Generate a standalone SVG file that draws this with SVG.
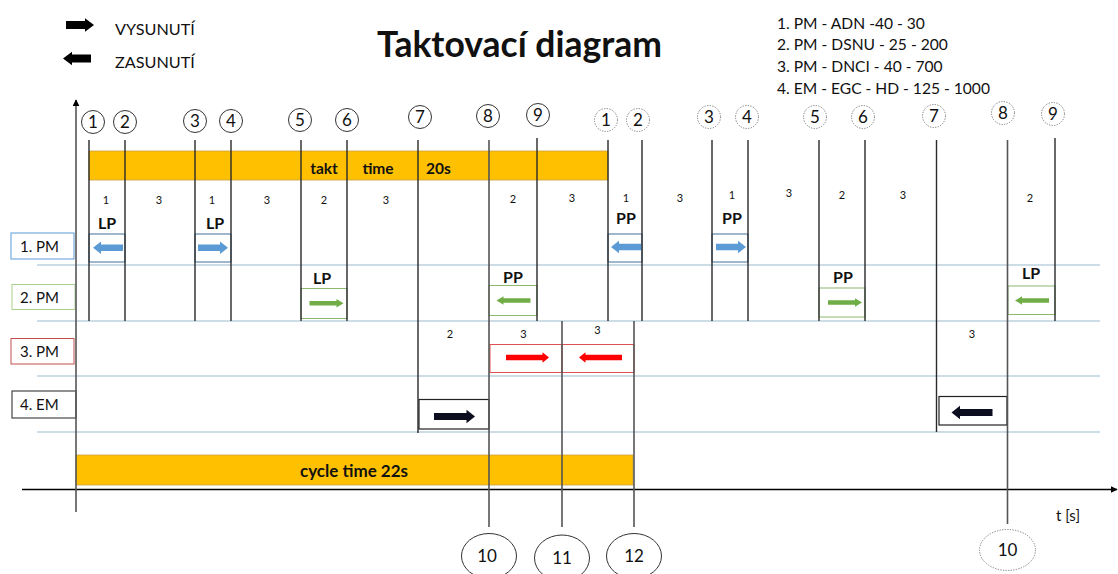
<svg xmlns="http://www.w3.org/2000/svg" width="1118" height="574" viewBox="0 0 1118 574">
<style>
text{font-family:Lato,"Liberation Sans",sans-serif;fill:#111}
.num{font-size:11px;text-anchor:middle}
.lbl{font-size:16px;font-weight:bold;text-anchor:middle}
.cd{font-size:17px;text-anchor:middle}
.vl{stroke:#2a2a2a;stroke-width:1.4;fill:none}
.vg{stroke:#555;stroke-width:1.6;fill:none}
.lane{stroke:#9bbcd0;stroke-width:1.2}
.cs{fill:none;stroke:#333;stroke-width:1}
.cdot{fill:none;stroke:#777;stroke-width:1;stroke-dasharray:1.2 1.4}
.bb{fill:#fff;stroke:#41719c;stroke-width:1}
.gb{fill:#fff;stroke:#8cb870;stroke-width:1}
.rb{fill:#fff;stroke:#e05050;stroke-width:1}
.kb{fill:#fff;stroke:#222;stroke-width:1.2}
.bar{fill:#ffc000;stroke:#c8a040;stroke-width:0.8}
.rowlbl{font-size:15px}
</style>
<defs>
<path id="ab" d="M-15,-3.3 H7 V-6.3 L15,0 L7,6.3 V3.3 H-15 Z" fill="#5b9bd5"/>
<path id="ag" d="M-17,-2.3 H10 V-4.3 L17,0 L10,4.3 V2.3 H-17 Z" fill="#70ad47"/>
<path id="ar" d="M-21.5,-2.8 H15 V-5.3 L21.5,0 L15,5.3 V2.8 H-21.5 Z" fill="#ff0000"/>
<path id="ak" d="M-20.5,-3.4 H12 V-6.7 L20.5,0 L12,6.7 V3.4 H-20.5 Z" fill="#0d0d20"/>
<path id="al" d="M-14,-4 H5 V-6.8 L14,0 L5,6.8 V4 H-14 Z" fill="#000"/>
<marker id="ah" viewBox="0 0 10 10" refX="9" refY="5" markerWidth="7" markerHeight="7" orient="auto" markerUnits="userSpaceOnUse"><path d="M0,0 L10,5 L0,10 Z" fill="#000"/></marker>
</defs>

<g id="legend">
<use href="#al" transform="translate(80,25)"/>
<text x="115" y="35" style="font-size:16.2px">VYSUNUTÍ</text>
<use href="#al" transform="translate(77,58.5) scale(-1,1)"/>
<text x="115" y="68" style="font-size:16.2px">ZASUNUTÍ</text>
</g>

<g id="title"><text x="377" y="56.5" style="font-size:35.5px;font-weight:bold">Taktovací diagram</text></g>

<g id="spec" style="font-size:15.6px">
<text x="777" y="28.5">1. PM - ADN -40 - 30</text>
<text x="777" y="50.3">2. PM - DSNU - 25 - 200</text>
<text x="777" y="72.1">3. PM - DNCI - 40 - 700</text>
<text x="777" y="93.9">4. EM - EGC - HD - 125 - 1000</text>
</g>

<g id="bars">
<rect class="bar" x="89" y="151" width="519" height="29"/>
<text x="324" y="173.5" style="font-size:15.5px;font-weight:bold;text-anchor:middle">takt</text>
<text x="378" y="173.5" style="font-size:15.5px;font-weight:bold;text-anchor:middle">time</text>
<text x="426" y="173.5" style="font-size:15.5px;font-weight:bold">20s</text>
<rect class="bar" x="76" y="455" width="557" height="30"/>
<text x="354" y="477" style="font-size:17px;font-weight:bold;text-anchor:middle">cycle time 22s</text>
</g>

<g id="lanes">
<line class="lane" x1="37" y1="265" x2="1100" y2="265"/>
<line class="lane" x1="37" y1="321" x2="1100" y2="321"/>
<line class="lane" x1="37" y1="376" x2="1100" y2="376"/>
<line class="lane" x1="37" y1="432" x2="1100" y2="432"/>
</g>

<g id="row-labels">
<g id="lbl-pm1"><rect x="11" y="233" width="63" height="26" fill="#fff" stroke="#5b9bd5" stroke-width="1"/><text class="rowlbl" x="20" y="251.5">1. PM</text></g>
<g id="lbl-pm2"><rect x="12" y="284.5" width="63" height="25" fill="#fff" stroke="#a9d18e" stroke-width="1"/><text class="rowlbl" x="20" y="302.5">2. PM</text></g>
<g id="lbl-pm3"><rect x="11" y="338.5" width="63" height="25.5" fill="#fff" stroke="#c0504d" stroke-width="1"/><text class="rowlbl" x="20" y="356.5">3. PM</text></g>
<g id="lbl-em4"><rect x="12" y="391" width="64" height="27" fill="#fff" stroke="#222" stroke-width="1"/><text class="rowlbl" x="20" y="410">4. EM</text></g>
</g>

<g id="boxes">
<g id="pm1-a"><rect class="bb" x="89" y="234" width="36" height="28"/><use href="#ab" transform="translate(108,247.7) scale(-1,1)"/><text class="lbl" x="107" y="229">LP</text></g>
<g id="pm1-b"><rect class="bb" x="195" y="234" width="36" height="28"/><use href="#ab" transform="translate(213,247.7)"/><text class="lbl" x="215" y="229">LP</text></g>
<g id="pm1-c"><rect class="bb" x="608" y="234" width="34" height="28"/><use href="#ab" transform="translate(626,247)  scale(-1,1)"/><text class="lbl" x="626" y="224">PP</text></g>
<g id="pm1-d"><rect class="bb" x="712" y="234" width="36" height="28"/><use href="#ab" transform="translate(731,247)"/><text class="lbl" x="732" y="224">PP</text></g>
<g id="pm2-a"><rect class="gb" x="301" y="288.5" width="46" height="30"/><use href="#ag" transform="translate(326.5,303.3)"/><text class="lbl" x="322" y="284">LP</text></g>
<g id="pm2-b"><rect class="gb" x="489" y="285.5" width="48" height="30"/><use href="#ag" transform="translate(513.5,300.5) scale(-1,1)"/><text class="lbl" x="513" y="283">PP</text></g>
<g id="pm2-c"><rect class="gb" x="819" y="288" width="46" height="29"/><use href="#ag" transform="translate(845,302.5)"/><text class="lbl" x="843" y="282.5">PP</text></g>
<g id="pm2-d"><rect class="gb" x="1008" y="286" width="47" height="28.5"/><use href="#ag" transform="translate(1032,300.5) scale(-1,1)"/><text class="lbl" x="1031" y="279">LP</text></g>
<g id="pm3-a"><rect class="rb" x="490" y="344.5" width="72" height="28"/><use href="#ar" transform="translate(527.5,357.5)"/></g>
<g id="pm3-b"><rect class="rb" x="562" y="344.5" width="72" height="28"/><use href="#ar" transform="translate(600.5,357.5) scale(-1,1)"/></g>
<g id="em4-a"><rect class="kb" x="419" y="399.5" width="70" height="29.5"/><use href="#ak" transform="translate(454.5,416.5)"/></g>
<g id="em4-b"><rect class="kb" x="939" y="396.5" width="68" height="28.5"/><use href="#ak" transform="translate(972,412.5) scale(-1,1)"/></g>
</g>

<g id="connectors">
<line x1="22" y1="489.5" x2="1117" y2="489.5" stroke="#000" stroke-width="1.3" marker-end="url(#ah)"/>
<line x1="76" y1="512" x2="76" y2="100" stroke="#555" stroke-width="1.6" marker-end="url(#ah)"/>
<path class="vl" d="M89,140V321 M125,140V321 M195,140V321 M231,140V321 M301,140V321 M347,140V321 M537,138V321 M608,140V321 M642,140V321 M712,140V321 M748,140V321 M819,140V321 M865,140V321 M1055,138V321"/>
<path class="vl" d="M418,140V433 M936.5,140V432"/>
<path class="vg" d="M489,140V527 M562,321V527 M634,321V527 M1007.5,140V524"/>
</g>

<g id="durations">
<text class="num" x="106" y="204">1</text><text class="num" x="159" y="204">3</text>
<text class="num" x="212" y="204">1</text><text class="num" x="267" y="204">3</text>
<text class="num" x="324" y="204">2</text><text class="num" x="386" y="204">3</text>
<text class="num" x="513" y="203">2</text><text class="num" x="572" y="202">3</text>
<text class="num" x="626" y="202">1</text><text class="num" x="680" y="202">3</text>
<text class="num" x="732" y="199">1</text><text class="num" x="789" y="197">3</text>
<text class="num" x="842" y="199">2</text><text class="num" x="903" y="199">3</text>
<text class="num" x="1030" y="202">2</text>
<text class="num" x="450" y="337.5">2</text><text class="num" x="523.5" y="337.5">3</text>
<text class="num" x="597.5" y="334">3</text><text class="num" x="972" y="338">3</text>
</g>

<g id="steps-top">
<g><circle class="cs" cx="93" cy="122" r="11.5"/><text class="cd" x="93" y="128">1</text></g>
<g><circle class="cs" cx="125" cy="122" r="11.5"/><text class="cd" x="125" y="128">2</text></g>
<g><circle class="cs" cx="195" cy="121" r="11.5"/><text class="cd" x="195" y="127">3</text></g>
<g><circle class="cs" cx="231" cy="121" r="11.5"/><text class="cd" x="231" y="127">4</text></g>
<g><circle class="cs" cx="300" cy="120" r="11.5"/><text class="cd" x="300" y="126">5</text></g>
<g><circle class="cs" cx="347" cy="120" r="11.5"/><text class="cd" x="347" y="126">6</text></g>
<g><circle class="cs" cx="420" cy="117" r="11.5"/><text class="cd" x="420" y="123">7</text></g>
<g><circle class="cs" cx="488" cy="116" r="11.5"/><text class="cd" x="488" y="122">8</text></g>
<g><circle class="cs" cx="538" cy="115" r="11.5"/><text class="cd" x="538" y="121">9</text></g>
<g><circle class="cdot" cx="606" cy="120" r="11.5"/><text class="cd" x="606" y="126">1</text></g>
<g><circle class="cdot" cx="638" cy="120" r="11.5"/><text class="cd" x="638" y="126">2</text></g>
<g><circle class="cdot" cx="709" cy="117" r="11.5"/><text class="cd" x="709" y="123">3</text></g>
<g><circle class="cdot" cx="747" cy="117" r="11.5"/><text class="cd" x="747" y="123">4</text></g>
<g><circle class="cdot" cx="815" cy="117" r="11.5"/><text class="cd" x="815" y="123">5</text></g>
<g><circle class="cdot" cx="863" cy="117" r="11.5"/><text class="cd" x="863" y="123">6</text></g>
<g><circle class="cdot" cx="934" cy="116" r="11.5"/><text class="cd" x="934" y="122">7</text></g>
<g><circle class="cdot" cx="1003" cy="113" r="11.5"/><text class="cd" x="1003" y="119">8</text></g>
<g><circle class="cdot" cx="1053" cy="114" r="11.5"/><text class="cd" x="1053" y="120">9</text></g>
</g>

<g id="steps-bottom">
<g id="s10"><ellipse class="cs" cx="489" cy="556" rx="27.5" ry="22.5"/><text class="cd" x="487" y="562">10</text></g>
<g id="s11"><ellipse class="cs" cx="562" cy="558" rx="27.5" ry="23"/><text class="cd" x="562" y="564">11</text></g>
<g id="s12"><ellipse class="cs" cx="634" cy="556" rx="27.5" ry="22.5"/><text class="cd" x="634" y="562">12</text></g>
<g id="s10b"><ellipse class="cdot" cx="1007.5" cy="550" rx="28" ry="20.5"/><text class="cd" x="1007.5" y="556">10</text></g>
</g>

<text x="1056" y="521" style="font-size:15px">t [s]</text>
</svg>
